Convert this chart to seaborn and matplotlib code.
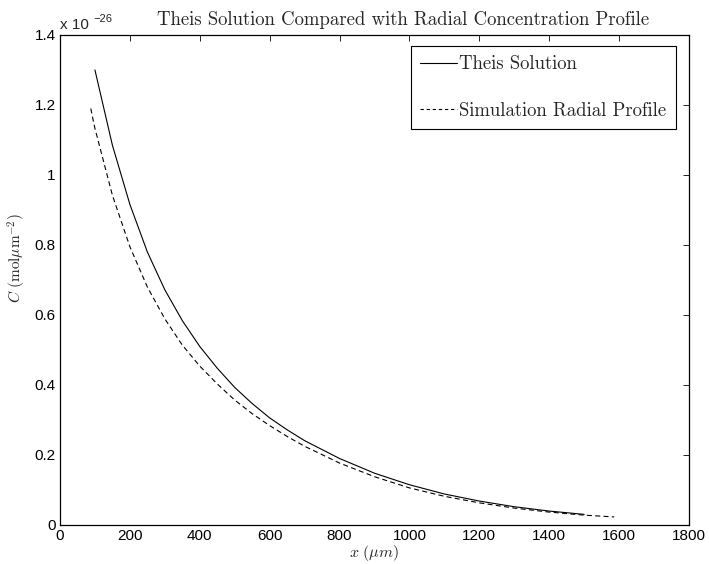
import numpy as np
import pandas as pd
import matplotlib
matplotlib.use("Agg")
import matplotlib.pyplot as plt
import seaborn as sns
from matplotlib.ticker import FuncFormatter, MultipleLocator

# ---- data (concentration in units of 1e-26 mol/um^2) ----
theis_x = [100, 150, 200, 250, 300, 350, 400, 450, 500, 550, 600, 650, 700,
           800, 900, 1000, 1100, 1200, 1300, 1400, 1500]
theis_c = [1.30, 1.085, 0.916, 0.780, 0.672, 0.584, 0.510, 0.448, 0.393,
           0.347, 0.306, 0.272, 0.241, 0.190, 0.148, 0.115, 0.0886, 0.0684,
           0.0522, 0.0398, 0.0304]

sim_x = [88, 100, 150, 200, 250, 300, 350, 400, 450, 500, 550, 600, 650, 700,
         800, 900, 1000, 1100, 1200, 1300, 1400, 1500, 1586]
sim_c = [1.19, 1.133, 0.942, 0.795, 0.680, 0.589, 0.514, 0.454, 0.403, 0.357,
         0.318, 0.284, 0.253, 0.225, 0.177, 0.138, 0.106, 0.082, 0.0633,
         0.0483, 0.0369, 0.0282, 0.023]

series_labels = ["Theis Solution", "Simulation Radial Profile"]
title_text = "Theis Solution Compared with Radial Concentration Profile"
xlabel_text = r"$x\ (\mu m)$"
ylabel_text = r"$C\ (\mathrm{mol}\mu\mathrm{m}^{-2})$"
offset_base = "x 10"
offset_exp = "\u221226"

sns.set_style("white")
plt.rcParams["mathtext.fontset"] = "cm"
plt.rcParams["font.family"] = ["Liberation Sans", "DejaVu Sans"]

fig = plt.figure(figsize=(7.09, 5.64), dpi=100)
ax = fig.add_axes([60 / 709, 1 - 525 / 564, 629 / 709, 490 / 564])

df_t = pd.DataFrame({"x": theis_x, "c": theis_c})
df_s = pd.DataFrame({"x": sim_x, "c": sim_c})
sns.lineplot(data=df_t, x="x", y="c", ax=ax, color="black", lw=0.8,
             label=series_labels[0], sort=False)
sns.lineplot(data=df_s, x="x", y="c", ax=ax, color="black", lw=0.8,
             dashes=False, label=series_labels[1], sort=False)
ax.lines[1].set_dashes([4.5, 3.0])

ax.set_xlim(0, 1800)
ax.set_ylim(0, 1.4)
ax.xaxis.set_major_locator(MultipleLocator(200))
ax.yaxis.set_major_locator(MultipleLocator(0.2))
ax.yaxis.set_major_formatter(FuncFormatter(lambda v, p: "%g" % round(v, 2)))
ax.xaxis.set_major_formatter(FuncFormatter(lambda v, p: "%g" % v))
ax.tick_params(direction="in", length=4, width=0.6, top=True, right=True,
               labelsize=11, colors="black", pad=3)
for s in ax.spines.values():
    s.set_visible(True)
    s.set_color("black")
    s.set_linewidth(0.9)

ax.set_xlabel(xlabel_text, fontsize=11.5, labelpad=0)
ax.set_ylabel(ylabel_text, fontsize=11, labelpad=2)
ax.yaxis.set_label_coords(-0.051, 0.545)
ax.set_title(title_text, family="cmr10", fontsize=13.5, x=0.545, pad=7)

ax.annotate(offset_base, xy=(0, 1), xycoords="axes fraction",
            xytext=(0, 2), textcoords="offset points", ha="left", va="bottom",
            fontsize=11)
ax.annotate(offset_exp, xy=(0, 1), xycoords="axes fraction",
            xytext=(24, 8), textcoords="offset points", ha="left",
            va="bottom", fontsize=8)

leg = ax.legend(loc="upper right", bbox_to_anchor=(0.979, 0.978),
                borderaxespad=0, frameon=True, fancybox=False,
                prop={"family": "cmr10", "size": 13.5}, handlelength=2.0,
                handletextpad=0.1, labelspacing=1.55, borderpad=0.5)
leg.get_frame().set_edgecolor("black")
leg.get_frame().set_linewidth(0.8)
leg.get_frame().set_alpha(1)
for h in leg.get_lines():
    h.set_linewidth(0.8)
leg.get_lines()[1].set_dashes([3.0, 2.5])

fig.savefig("out.png", dpi=100)
